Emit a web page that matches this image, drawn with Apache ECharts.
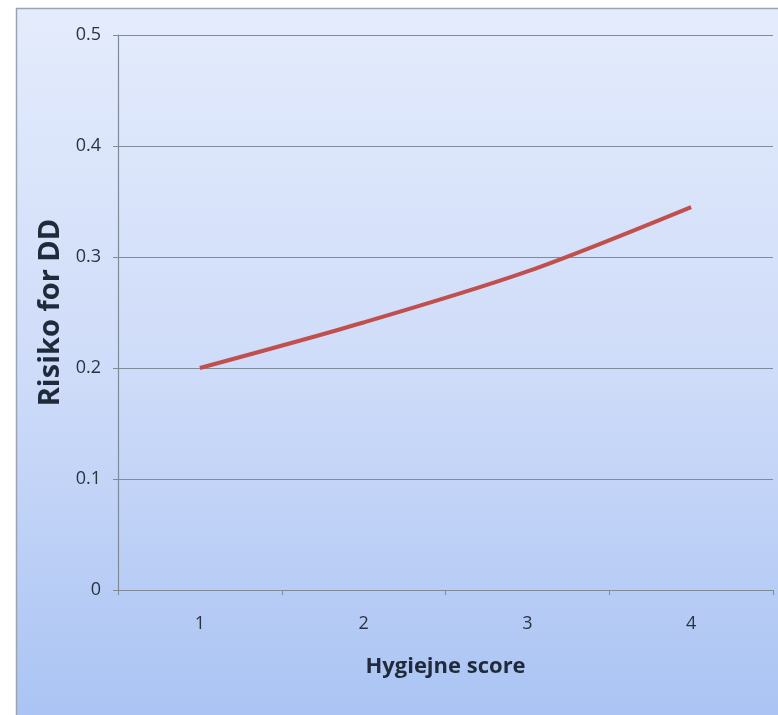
<!DOCTYPE html>
<html><head><meta charset="utf-8">
<script src="https://cdn.jsdelivr.net/npm/echarts@6/dist/echarts.min.js"></script>
<style>html,body{margin:0;padding:0;background:#fff}#c{width:778px;height:715px}</style>
</head><body><div id="c"></div>
<script>
const categories = ['1', '2', '3', '4'];
const risk = [0.2, 0.241, 0.287, 0.345];
const yTicks = { min: 0, max: 0.5, interval: 0.1 };

const chart = echarts.init(document.getElementById('c'), null, { renderer: 'canvas' });
chart.setOption({
  backgroundColor: '#ffffff',
  animation: false,
  graphic: [{
    type: 'rect', z: -10, silent: true,
    shape: { x: 16.5, y: 8.5, width: 780, height: 720 },
    style: {
      fill: new echarts.graphic.LinearGradient(0, 0, 0, 1, [
        { offset: 0, color: '#e4ecfc' },
        { offset: 0.5, color: '#cfdcf9' },
        { offset: 1, color: '#a9c3f3' }
      ]),
      stroke: '#9aa4b0', lineWidth: 1.5
    }
  }],
  grid: { left: 118, right: 5, top: 35, bottom: 125, containLabel: false },
  xAxis: {
    type: 'category', data: categories, boundaryGap: true,
    name: 'Hygiejne score', nameLocation: 'middle', nameGap: 66,
    nameTextStyle: { fontFamily: 'Open Sans', fontWeight: 'bold', fontSize: 22, color: '#1f2a3a' },
    axisLine: { lineStyle: { color: '#7d8a98', width: 1.2 } },
    axisTick: { show: true, length: 5, inside: false, lineStyle: { color: '#7d8a98' } },
    axisLabel: { fontFamily: 'Open Sans', fontSize: 18, color: '#2a3340', margin: 25 }
  },
  yAxis: {
    type: 'value', min: yTicks.min, max: yTicks.max, interval: yTicks.interval,
    name: 'Risiko for DD', nameLocation: 'middle', nameGap: 49, nameRotate: 90,
    nameTextStyle: { fontFamily: 'Open Sans', fontWeight: 'bold', fontSize: 29, color: '#1f2a3a' },
    axisLine: { show: true, lineStyle: { color: '#7d8a98', width: 1.2 } },
    axisTick: { show: true, length: 5, lineStyle: { color: '#7d8a98' } },
    axisLabel: { fontFamily: 'Open Sans', fontSize: 18, color: '#2a3340', margin: 17,
      formatter: v => (v === 0 ? '0' : v.toFixed(1)) },
    splitLine: { show: true, lineStyle: { color: '#7f8c99', width: 1.2 } }
  },
  series: [{
    type: 'line', data: risk, smooth: 0.3, showSymbol: false,
    lineStyle: { color: '#c0504d', width: 4 }
  }]
});
</script></body></html>
